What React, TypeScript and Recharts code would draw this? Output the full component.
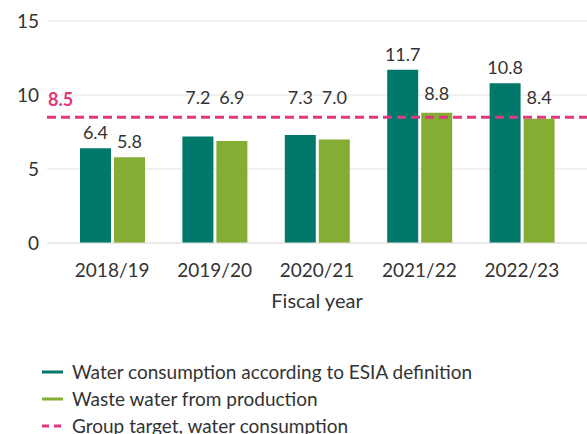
import React from 'react';
import { BarChart, Bar, XAxis, YAxis, CartesianGrid, ReferenceLine, LabelList, Legend, Label } from 'recharts';

const fiscalYears = ['2018/19', '2019/20', '2020/21', '2021/22', '2022/23'];
const waterConsumption = [6.4, 7.2, 7.3, 11.7, 10.8];
const wasteWater = [5.8, 6.9, 7.0, 8.8, 8.4];
const groupTarget = 8.5;
const yTicks = [0, 5, 10, 15];

const TEAL = '#00796b';
const GREEN = '#86ad33';
const PINK = '#e0377f';
const TEXT = '#333333';
const FONT = 'Lato, "Noto Sans", sans-serif';

const legendItems = [
    { label: 'Water consumption according to ESIA definition', color: TEAL, dashed: false },
    { label: 'Waste water from production', color: GREEN, dashed: false },
    { label: 'Group target, water consumption', color: PINK, dashed: true },
];

const chartData = fiscalYears.map((year, i) => ({
    year,
    consumption: waterConsumption[i],
    waste: wasteWater[i],
}));

// puts the value over the bar, or over the target line when the two would collide
const ValueLabel = (props: any) => {
    const { x, y, width, height, value } = props;
    if (value == null || !height) return null;
    const bottom = y + height;
    const lineY = bottom - (groupTarget * height) / value;
    let baseline = y - 9;
    if (Math.abs(y - lineY) < 25) {
        baseline = Math.min(y, lineY) - 13;
    }
    return (
        <text x={x + width / 2} y={baseline} textAnchor="middle" fill={TEXT} fontSize={18} fontFamily={FONT}>
            {Number(value).toFixed(1)}
        </text>
    );
};

const ChartLegend = () => (
    <div style={{ height: 102, paddingLeft: 42, fontFamily: FONT, fontSize: 19, color: TEXT }}>
        {legendItems.map((item) => (
            <div key={item.label} style={{ display: 'flex', alignItems: 'center', height: 27 }}>
                <svg width={30} height={10}>
                    <line
                        x1={0}
                        y1={5}
                        x2={21}
                        y2={5}
                        stroke={item.color}
                        strokeWidth={3}
                        strokeDasharray={item.dashed ? '7 5' : undefined}
                    />
                </svg>
                <span>{item.label}</span>
            </div>
        ))}
    </div>
);

export default function App() {
    return (
        <div style={{ position: 'absolute', left: 0, top: 0, width: 587, height: 434, overflow: 'hidden' }}>
            <BarChart
                width={587}
                height={460}
                data={chartData}
                margin={{ top: 21, right: 0, left: 0, bottom: 0 }}
                barSize={31}
                barGap={3}
            >
                <CartesianGrid vertical={false} stroke="#e2e2e2" />
                <XAxis
                    dataKey="year"
                    axisLine={{ stroke: '#e2e2e2' }}
                    tickLine={false}
                    tickMargin={15}
                    height={115}
                    padding={{ left: 14, right: 14 }}
                    tick={{ fill: TEXT, fontSize: 19, fontFamily: FONT }}
                >
                    <Label value="Fiscal year" position="insideTop" offset={51} fill={TEXT} fontSize={20} fontFamily={FONT} />
                </XAxis>
                <YAxis
                    width={47}
                    domain={[0, 15]}
                    ticks={yTicks}
                    axisLine={false}
                    tickLine={false}
                    tick={{ fill: TEXT, fontSize: 19, fontFamily: FONT }}
                />
                <Bar dataKey="consumption" fill={TEAL} isAnimationActive={false}>
                    <LabelList dataKey="consumption" content={ValueLabel} />
                </Bar>
                <Bar dataKey="waste" fill={GREEN} isAnimationActive={false}>
                    <LabelList dataKey="waste" content={ValueLabel} />
                </Bar>
                <ReferenceLine y={groupTarget} stroke={PINK} strokeWidth={3} strokeDasharray="9 5">
                    <Label
                        value={groupTarget.toFixed(1)}
                        position="insideTopLeft"
                        offset={0}
                        dx={1}
                        dy={-24}
                        fill={PINK}
                        fontSize={18}
                        fontWeight="bold"
                        fontFamily={FONT}
                    />
                </ReferenceLine>
                <Legend verticalAlign="bottom" align="left" content={<ChartLegend />} />
            </BarChart>
        </div>
    );
}
